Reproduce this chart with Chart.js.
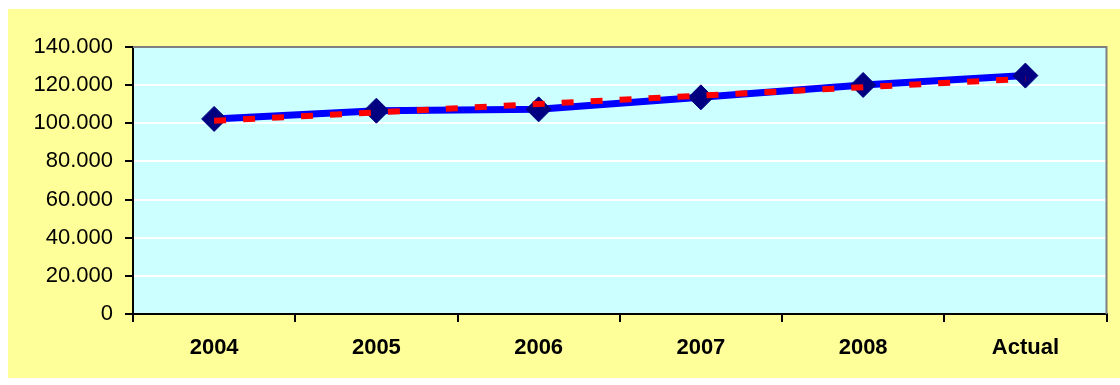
<!DOCTYPE html>
<html>
<head>
<meta charset="utf-8">
<title>Evolución 2004 – Actual</title>
<script src="https://cdn.jsdelivr.net/npm/chart.js@4.4.1/dist/chart.umd.min.js"></script>
<style>
  html, body { margin: 0; padding: 0; background: #ffffff; }
  #wrap { width: 1120px; height: 385px; }
</style>
</head>
<body>
<div id="wrap"><canvas id="chart" width="1120" height="385"></canvas></div>
<script>
// Categories along the x axis
const categories = ['2004', '2005', '2006', '2007', '2008', 'Actual'];
// Yearly values
const seriesValues = [102300, 106600, 107300, 113600, 120100, 125000];
// Linear trend, start and end values
const trendStart = 101300;
const trendEnd = 123300;
// Y axis ticks
const yTicks = [0, 20000, 40000, 60000, 80000, 100000, 120000, 140000];

const fmt = v => v === 0 ? '0' : String(v).replace(/\B(?=(\d{3})+(?!\d))/g, '.');

// Chart background, plot area fill and plot area border
const panels = {
  id: 'panels',
  beforeDraw(chart) {
    const { ctx, chartArea: a } = chart;
    ctx.save();
    ctx.fillStyle = '#FFFF99';
    ctx.fillRect(8, 9, chart.width - 8, 369);
    ctx.fillStyle = '#CCFFFF';
    ctx.fillRect(a.left, a.top, a.right - a.left, a.bottom - a.top);
    ctx.restore();
  },
  beforeDatasetsDraw(chart) {
    const { ctx, chartArea: a } = chart;
    ctx.save();
    ctx.strokeStyle = '#808080';
    ctx.lineWidth = 2;
    ctx.beginPath();
    ctx.moveTo(a.left, a.top);
    ctx.lineTo(a.right, a.top);
    ctx.lineTo(a.right, a.bottom);
    ctx.stroke();
    ctx.restore();
  }
};

const font = '"Liberation Sans", Arial, sans-serif';

new Chart(document.getElementById('chart'), {
  type: 'line',
  data: {
    labels: categories,
    datasets: [
      {
        label: 'Tendencia',
        data: [{ x: categories[0], y: trendStart }, { x: categories[categories.length - 1], y: trendEnd }],
        borderColor: '#FF0000',
        borderWidth: 6,
        borderDash: [12, 17],
        borderCapStyle: 'butt',
        pointRadius: 0,
        tension: 0,
        order: 0
      },
      {
        label: 'Valor',
        data: seriesValues,
        borderColor: '#0000FF',
        borderWidth: 7,
        pointStyle: 'rectRot',
        pointRadius: 12.5,
        pointBackgroundColor: '#000080',
        pointBorderColor: '#000080',
        pointBorderWidth: 1,
        tension: 0,
        order: 1
      }
    ]
  },
  options: {
    responsive: false,
    animation: false,
    layout: { padding: { left: 0, top: 47, right: 10, bottom: 21 } },
    plugins: {
      legend: { display: false },
      tooltip: { enabled: false }
    },
    scales: {
      x: {
        type: 'category',
        offset: true,
        grid: {
          offset: true,
          drawOnChartArea: false,
          tickColor: '#000000',
          tickLength: 8,
          lineWidth: 2
        },
        border: { color: '#000000', width: 2 },
        ticks: {
          color: '#000000',
          padding: 13,
          maxRotation: 0,
          font: { family: font, size: 22, weight: 'bold' }
        },
        afterFit(scale) { scale.height = 50; }
      },
      y: {
        min: 0,
        max: 140000,
        afterBuildTicks(scale) { scale.ticks = yTicks.map(v => ({ value: v })); },
        grid: {
          color: ctx => (ctx.tick && ctx.tick.value === 140000) ? 'rgba(0,0,0,0)' : '#FFFFFF',
          tickColor: '#000000',
          tickLength: 8,
          lineWidth: 2
        },
        border: { color: '#000000', width: 2 },
        ticks: {
          color: '#000000',
          padding: 12,
          font: { family: font, size: 22 },
          callback: v => fmt(v)
        },
        afterFit(scale) { scale.width = 133; }
      }
    }
  },
  plugins: [panels]
});
</script>
</body>
</html>
